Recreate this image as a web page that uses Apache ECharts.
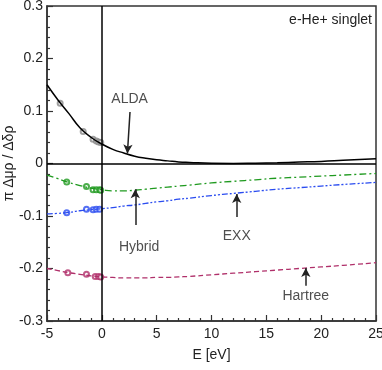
<!DOCTYPE html>
<html>
<head>
<meta charset="utf-8">
<script src="https://cdn.jsdelivr.net/npm/echarts@6/dist/echarts.min.js"></script>
<style>
  html, body { margin: 0; padding: 0; background: #fff; }
  #main { width: 382px; height: 370px; }
</style>
</head>
<body>
<div id="main"></div>
<script>
// energies (eV)
var energy = [-5, -4, -3, -2, -1, 0, 1, 2, 3, 4, 5, 6, 7, 8, 10, 12, 14, 16, 18, 20, 22, 25];
var alda    = [0.150, 0.121, 0.095, 0.068, 0.050, 0.037, 0.027, 0.020, 0.014, 0.010, 0.007, 0.005, 0.003, 0.002, 0.0005, 0.0002, 0.0007, 0.0015, 0.0027, 0.004, 0.006, 0.009];
var hybrid  = [-0.022, -0.029, -0.036, -0.042, -0.047, -0.050, -0.052, -0.052, -0.051, -0.049, -0.047, -0.045, -0.043, -0.041, -0.037, -0.034, -0.031, -0.028, -0.026, -0.024, -0.022, -0.019];
var exx     = [-0.096, -0.095, -0.093, -0.090, -0.088, -0.086, -0.084, -0.081, -0.079, -0.076, -0.073, -0.071, -0.068, -0.066, -0.061, -0.057, -0.053, -0.049, -0.046, -0.043, -0.040, -0.036];
var hartree = [-0.200, -0.204, -0.208, -0.211, -0.214, -0.216, -0.217, -0.218, -0.218, -0.218, -0.217, -0.217, -0.216, -0.215, -0.212, -0.209, -0.206, -0.203, -0.200, -0.197, -0.194, -0.189];

// sampled points (open circles)
var aldaPts    = [[-3.8, 0.115], [-1.7, 0.061], [-0.8, 0.046], [-0.5, 0.043], [-0.3, 0.041], [-0.1, 0.040]];
var hybridPts  = [[-3.2, -0.035], [-1.4, -0.044], [-0.8, -0.050], [-0.5, -0.050], [-0.2, -0.050], [-0.1, -0.051]];
var exxPts     = [[-3.2, -0.094], [-1.4, -0.087], [-0.8, -0.088], [-0.5, -0.087], [-0.2, -0.087]];
var hartreePts = [[-3.1, -0.208], [-1.4, -0.211], [-0.6, -0.215], [-0.3, -0.215], [-0.1, -0.216]];

var xTicks = [-5, 0, 5, 10, 15, 20, 25];
var yTicks = [-0.3, -0.2, -0.1, 0, 0.1, 0.2, 0.3];

// labels and arrows: [text x, text y, name], arrow [tail, tip]
var notes = [[2.53, 0.123, 'ALDA'], [3.4, -0.159, 'Hybrid'], [12.3, -0.1375, 'EXX'], [18.6, -0.252, 'Hartree']];
var arrows = [
  [[2.57, 0.098], [2.33, 0.019]],
  [[3.05, -0.117], [3.05, -0.049]],
  [[12.3, -0.102], [12.3, -0.058]],
  [[18.6, -0.233], [18.6, -0.199]]
];

var FONT = 'Liberation Sans';
var cGreen = '#1f9a1f', cBlue = '#2a4cf0', cRed = '#b0306a';

function zip(xs, ys) {
  return xs.map(function (x, i) { return [x, ys[i]]; });
}

var myChart = echarts.init(document.getElementById('main'));

var option = {
  animation: false,
  textStyle: { fontFamily: FONT },
  grid: { left: 47, right: 6, top: 6, bottom: 49, containLabel: false, outerBoundsMode: 'none',
    show: true, borderColor: '#333', borderWidth: 1.5 },
  graphic: [{
    type: 'text', right: 10, top: 13,
    style: { text: 'e-He+ singlet', font: '14px "Liberation Sans"', fill: '#222' }
  }],
  xAxis: {
    type: 'value', min: -5, max: 25, interval: 5,
    name: 'E [eV]', nameLocation: 'middle', nameGap: 27, nameMoveOverlap: false,
    nameTextStyle: { fontSize: 14, color: '#222', fontFamily: FONT },
    axisLine: { onZero: false, lineStyle: { color: '#333', width: 1.5 } },
    axisTick: { show: true, inside: true, length: 6, lineStyle: { color: '#333', width: 1.2 } },
    minorTick: { show: true, splitNumber: 5, length: 3, lineStyle: { color: '#333', width: 1.2 } },
    axisLabel: { fontSize: 14, color: '#222', margin: 6, fontFamily: FONT,
      formatter: function (v) { return xTicks.indexOf(v) >= 0 ? String(v) : ''; } },
    splitLine: { show: false }
  },
  yAxis: {
    type: 'value', min: -0.3, max: 0.3, interval: 0.1,
    name: 'π Δμρ / Δδρ', nameLocation: 'middle', nameGap: 31, nameMoveOverlap: false,
    nameTextStyle: { fontSize: 14, color: '#222', fontFamily: FONT },
    axisLine: { onZero: false, lineStyle: { color: '#333', width: 1.5 } },
    axisTick: { show: true, inside: true, length: 6, lineStyle: { color: '#333', width: 1.2 } },
    minorTick: { show: true, splitNumber: 5, length: 3, lineStyle: { color: '#333', width: 1.2 } },
    axisLabel: { fontSize: 14, color: '#222', margin: 4, fontFamily: FONT,
      formatter: function (v) {
        var r = Math.round(v * 10) / 10;
        return r === 0 ? '0' : r.toFixed(1);
      } },
    splitLine: { show: false }
  },
  series: [
    {
      name: 'ALDA', type: 'line', smooth: true, symbol: 'none',
      data: zip(energy, alda),
      lineStyle: { color: '#000', width: 1.5 },
      markLine: {
        silent: true, symbol: 'none', label: { show: false },
        lineStyle: { color: '#000', width: 1.5, type: 'solid' },
        data: [{ xAxis: 0 }, { yAxis: 0 }]
      }
    },
    {
      name: 'Hybrid', type: 'line', smooth: true, symbol: 'none',
      data: zip(energy, hybrid),
      lineStyle: { color: cGreen, width: 1.3, type: [7, 3, 2, 3] }
    },
    {
      name: 'EXX', type: 'line', smooth: true, symbol: 'none',
      data: zip(energy, exx),
      lineStyle: { color: cBlue, width: 1.3, type: [6, 2, 2, 2, 2, 2] }
    },
    {
      name: 'Hartree', type: 'line', smooth: true, symbol: 'none',
      data: zip(energy, hartree),
      lineStyle: { color: cRed, width: 1.3, type: [5, 3] }
    },
    { type: 'scatter', symbol: 'emptyCircle', symbolSize: 5, data: aldaPts, itemStyle: { color: '#888', borderWidth: 1 } },
    { type: 'scatter', symbol: 'emptyCircle', symbolSize: 5, data: hybridPts, itemStyle: { color: cGreen, borderWidth: 1 } },
    { type: 'scatter', symbol: 'emptyCircle', symbolSize: 5, data: exxPts, itemStyle: { color: cBlue, borderWidth: 1 } },
    { type: 'scatter', symbol: 'emptyCircle', symbolSize: 5, data: hartreePts, itemStyle: { color: cRed, borderWidth: 1 } },
    {
      type: 'scatter', symbolSize: 0, silent: true,
      data: notes,
      label: {
        show: true, position: 'inside', fontSize: 14, color: '#222', fontFamily: FONT,
        formatter: function (p) { return p.value[2]; }
      },
      markLine: {
        silent: true, symbol: ['none', 'arrow'], symbolSize: [7, 9],
        label: { show: false },
        lineStyle: { color: '#222', width: 1.5, type: 'solid' },
        data: arrows.map(function (a) { return [{ coord: a[0] }, { coord: a[1] }]; })
      }
    }
  ]
};

myChart.setOption(option);
</script>
</body>
</html>
